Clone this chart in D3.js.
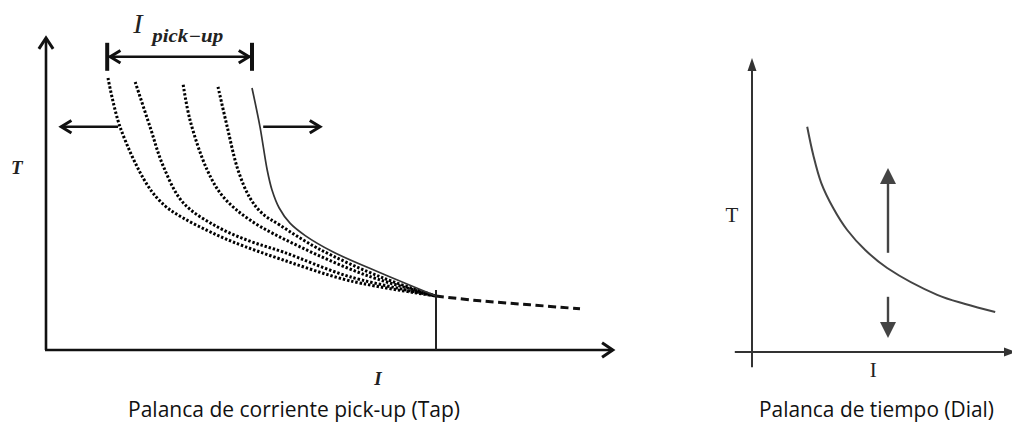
<!DOCTYPE html>
<html>
<head>
<meta charset="utf-8">
<script src="https://cdn.jsdelivr.net/npm/d3@7"></script>
<style>
  body { margin: 0; background: #fff; }
  svg { display: block; }
</style>
</head>
<body>
<div id="chart"></div>
<script>
// ---- left panel: tap (pick-up) setting, I and T in arbitrary units ----
var tapNames = ['tap1', 'tap2', 'tap3', 'tap4', 'tap5']
var tap1I = [1.55, 1.85, 2.53, 2.98, 3.43, 4.05, 4.68, 5.93, 7.6, 9.75]
var tap1T = [6.8, 5.58, 4.13, 3.6, 3.3, 2.98, 2.7, 2.25, 1.73, 1.35]
var tap2I = [2.23, 2.6, 2.93, 3.43, 4.28, 5.1, 5.93, 7.6, 9.75]
var tap2T = [6.7, 5.58, 4.6, 3.68, 3.08, 2.72, 2.45, 1.83, 1.35]
var tap3I = [3.43, 3.6, 4.03, 4.43, 5.1, 6.35, 8.03, 9.75]
var tap3T = [6.63, 5.75, 4.5, 3.83, 3.25, 2.58, 1.86, 1.35]
var tap4I = [4.3, 4.53, 4.8, 5.1, 5.4, 5.85, 6.78, 8.43, 9.75]
var tap4T = [6.58, 5.58, 4.5, 3.8, 3.42, 3.12, 2.55, 1.8, 1.35]
var tap5I = [5.15, 5.35, 5.53, 5.65, 5.83, 6.1, 6.48, 7.18, 8.43, 9.75]
var tap5T = [6.55, 5.58, 4.5, 4.0, 3.55, 3.17, 2.86, 2.45, 1.9, 1.35]
// common tail after the curves meet
var tailI = [9.75, 10.85, 12.1, 13.35]
var tailT = [1.35, 1.23, 1.13, 1.03]
var meetI = 9.75
var meetT = 1.5
// pick-up range shown by the bracket
var pickupFrom = 1.53
var pickupTo = 5.15

// ---- right panel: time dial ----
var dialI = [1.38, 1.53, 1.73, 2.03, 2.38, 2.83, 3.38, 4.63, 5.33, 6.08]
var dialT = [5.63, 4.93, 4.23, 3.6, 3.05, 2.55, 2.1, 1.43, 1.2, 1.0]
var dialArrowI = 3.4
var dialUp = [2.48, 4.6]
var dialDown = [1.38, 0.35]

var labels = {
  leftCaption: 'Palanca de corriente pick-up (Tap)',
  rightCaption: 'Palanca de tiempo (Dial)'
}

var width = 1012, height = 422

var svg = d3.select('#chart').append('svg')
  .attr('width', width)
  .attr('height', height)

// scales (40 px per unit in both panels)
var x = d3.scaleLinear().domain([0, 14]).range([46, 606])
var y = d3.scaleLinear().domain([0, 8]).range([350, 30])
var x2 = d3.scaleLinear().domain([0, 6.5]).range([752, 1012])
var y2 = d3.scaleLinear().domain([0, 7.35]).range([352, 58])

function zip(a, b) { return a.map(function(d, i) { return [d, b[i]] }) }

var tapData = [zip(tap1I, tap1T), zip(tap2I, tap2T), zip(tap3I, tap3T), zip(tap4I, tap4T), zip(tap5I, tap5T)]

var line = d3.line()
  .x(function(d) { return x(d[0]) })
  .y(function(d) { return y(d[1]) })
  .curve(d3.curveCatmullRom.alpha(0.5))

var line2 = d3.line()
  .x(function(d) { return x2(d[0]) })
  .y(function(d) { return y2(d[1]) })
  .curve(d3.curveCatmullRom.alpha(0.5))

// open chevron head, tip at (px,py), ang = direction it points to
function chevron(g, px, py, ang, len, spread, w) {
  var a1 = ang + Math.PI - spread, a2 = ang + Math.PI + spread
  g.append('path')
    .attr('d', 'M' + (px + len * Math.cos(a1)) + ',' + (py + len * Math.sin(a1)) +
      'L' + px + ',' + py +
      'L' + (px + len * Math.cos(a2)) + ',' + (py + len * Math.sin(a2)))
    .attr('fill', 'none')
    .attr('stroke', '#111')
    .attr('stroke-width', w)
    .attr('stroke-linejoin', 'miter')
}

function triangle(g, px, py, dir, len, half, color) {
  // dir: 1 = pointing up, -1 = pointing down, 0 = right
  var d
  if (dir === 0) d = 'M' + px + ',' + py + 'L' + (px - len) + ',' + (py - half) + 'L' + (px - len) + ',' + (py + half) + 'Z'
  else d = 'M' + px + ',' + py + 'L' + (px - half) + ',' + (py + dir * len) + 'L' + (px + half) + ',' + (py + dir * len) + 'Z'
  g.append('path').attr('d', d).attr('fill', color)
}

// ================= left panel =================
var left = svg.append('g').attr('class', 'left')

// axes
left.append('line')
  .attr('x1', x(0)).attr('y1', y(0)).attr('x2', x(0)).attr('y2', y(7.8))
  .attr('stroke', '#111').attr('stroke-width', 2.6)
left.append('line')
  .attr('x1', x(0) - 1).attr('y1', y(0)).attr('x2', x(14.17)).attr('y2', y(0))
  .attr('stroke', '#111').attr('stroke-width', 2.6)
chevron(left, x(0), y(7.8), -Math.PI / 2, 13, 0.58, 3)
chevron(left, x(14.17), y(0), 0, 13, 0.6, 3)

// tap curves: four dotted, last one solid
left.selectAll('path.tap')
  .data(tapData)
  .enter().append('path')
  .attr('class', 'tap')
  .attr('d', line)
  .attr('fill', 'none')
  .attr('stroke', function(d, i) { return i === 4 ? '#333' : '#000' })
  .attr('stroke-width', function(d, i) { return i === 4 ? 1.7 : 3 })
  .attr('stroke-dasharray', function(d, i) { return i === 4 ? null : '2.4,1.9' })

// dashed tail
left.append('path')
  .datum(zip(tailI, tailT))
  .attr('d', line)
  .attr('fill', 'none')
  .attr('stroke', '#111')
  .attr('stroke-width', 3)
  .attr('stroke-dasharray', '8,4.5')

// vertical marker at the meeting point
left.append('line')
  .attr('x1', x(meetI)).attr('x2', x(meetI))
  .attr('y1', y(0)).attr('y2', y(meetT))
  .attr('stroke', '#222').attr('stroke-width', 2)

// pick-up bracket
var by = y(7.33)
;[pickupFrom, pickupTo].forEach(function(v) {
  left.append('line')
    .attr('x1', x(v)).attr('x2', x(v))
    .attr('y1', y(7.68)).attr('y2', y(6.98))
    .attr('stroke', '#111').attr('stroke-width', 4)
})
left.append('line')
  .attr('x1', x(pickupFrom) + 2).attr('x2', x(pickupTo) - 2)
  .attr('y1', by).attr('y2', by)
  .attr('stroke', '#111').attr('stroke-width', 2.6)
chevron(left, x(pickupFrom) + 3, by, Math.PI, 12, 0.55, 3)
chevron(left, x(pickupTo) - 3, by, 0, 12, 0.55, 3)

// side arrows (shift left / right)
var sy = y(5.58)
left.append('line')
  .attr('x1', x(1.8)).attr('x2', x(0.38)).attr('y1', sy).attr('y2', sy)
  .attr('stroke', '#111').attr('stroke-width', 2.6)
chevron(left, x(0.38), sy, Math.PI, 12, 0.55, 3)
left.append('line')
  .attr('x1', x(5.43)).attr('x2', x(6.85)).attr('y1', sy).attr('y2', sy)
  .attr('stroke', '#111').attr('stroke-width', 2.6)
chevron(left, x(6.85), sy, 0, 12, 0.55, 3)

// labels
left.append('text')
  .attr('x', x(pickupFrom) + 26).attr('y', 33)
  .attr('font-family', 'Liberation Serif, DejaVu Serif, serif')
  .attr('font-style', 'italic').attr('font-size', 28)
  .attr('fill', '#222')
  .text('I')
left.append('text')
  .attr('x', x(pickupFrom) + 45).attr('y', 42)
  .attr('font-family', 'Liberation Serif, DejaVu Serif, serif')
  .attr('font-style', 'italic').attr('font-weight', 'bold').attr('font-size', 18)
  .attr('fill', '#222')
  .attr('textLength', 71).attr('lengthAdjust', 'spacingAndGlyphs')
  .text('pick\u2212up')

left.append('text')
  .attr('x', x(-0.73)).attr('y', y(4.4))
  .attr('text-anchor', 'middle')
  .attr('font-family', 'Liberation Serif, DejaVu Serif, serif')
  .attr('font-style', 'italic').attr('font-weight', 'bold').attr('font-size', 19)
  .attr('fill', '#222')
  .text('T')
left.append('text')
  .attr('x', x(8.3)).attr('y', y(-0.87))
  .attr('text-anchor', 'middle')
  .attr('font-family', 'Liberation Serif, DejaVu Serif, serif')
  .attr('font-style', 'italic').attr('font-weight', 'bold').attr('font-size', 19)
  .attr('fill', '#222')
  .text('I')

// ================= right panel =================
var right = svg.append('g').attr('class', 'right')

right.append('line')
  .attr('x1', x2(0)).attr('x2', x2(0)).attr('y1', y2(-0.38)).attr('y2', y2(7.05))
  .attr('stroke', '#333').attr('stroke-width', 2)
triangle(right, x2(0), y2(7.35), 1, 13, 4.5, '#333')
right.append('line')
  .attr('x1', x2(-0.43)).attr('x2', x2(6.4)).attr('y1', y2(0)).attr('y2', y2(0))
  .attr('stroke', '#333').attr('stroke-width', 2)
triangle(right, x2(6.6), y2(0), 0, 12, 4.5, '#333')

right.append('path')
  .datum(zip(dialI, dialT))
  .attr('d', line2)
  .attr('fill', 'none')
  .attr('stroke', '#444')
  .attr('stroke-width', 2)

right.append('line')
  .attr('x1', x2(dialArrowI)).attr('x2', x2(dialArrowI))
  .attr('y1', y2(dialUp[0])).attr('y2', y2(dialUp[1]) + 10)
  .attr('stroke', '#444').attr('stroke-width', 2.4)
triangle(right, x2(dialArrowI), y2(dialUp[1]), 1, 16, 8, '#444')
right.append('line')
  .attr('x1', x2(dialArrowI)).attr('x2', x2(dialArrowI))
  .attr('y1', y2(dialDown[0])).attr('y2', y2(dialDown[1]) - 10)
  .attr('stroke', '#444').attr('stroke-width', 2.4)
triangle(right, x2(dialArrowI), y2(dialDown[1]), -1, 16, 8, '#444')

right.append('text')
  .attr('x', x2(-0.5)).attr('y', y2(3.43) + 7)
  .attr('text-anchor', 'middle')
  .attr('font-family', 'Liberation Serif, DejaVu Serif, serif')
  .attr('font-size', 21)
  .attr('fill', '#222')
  .text('T')
right.append('text')
  .attr('x', x2(3.03)).attr('y', y2(-0.45) + 7)
  .attr('text-anchor', 'middle')
  .attr('font-family', 'Liberation Serif, DejaVu Serif, serif')
  .attr('font-size', 21)
  .attr('fill', '#222')
  .text('I')

// captions
svg.append('text')
  .attr('x', 128).attr('y', 417)
  .attr('font-family', 'Open Sans, Noto Sans, sans-serif')
  .attr('font-size', 21)
  .attr('fill', '#111')
  .attr('textLength', 332).attr('lengthAdjust', 'spacingAndGlyphs')
  .text(labels.leftCaption)
svg.append('text')
  .attr('x', 759).attr('y', 417)
  .attr('font-family', 'Open Sans, Noto Sans, sans-serif')
  .attr('font-size', 21)
  .attr('fill', '#111')
  .attr('textLength', 235).attr('lengthAdjust', 'spacingAndGlyphs')
  .text(labels.rightCaption)
</script>
</body>
</html>
